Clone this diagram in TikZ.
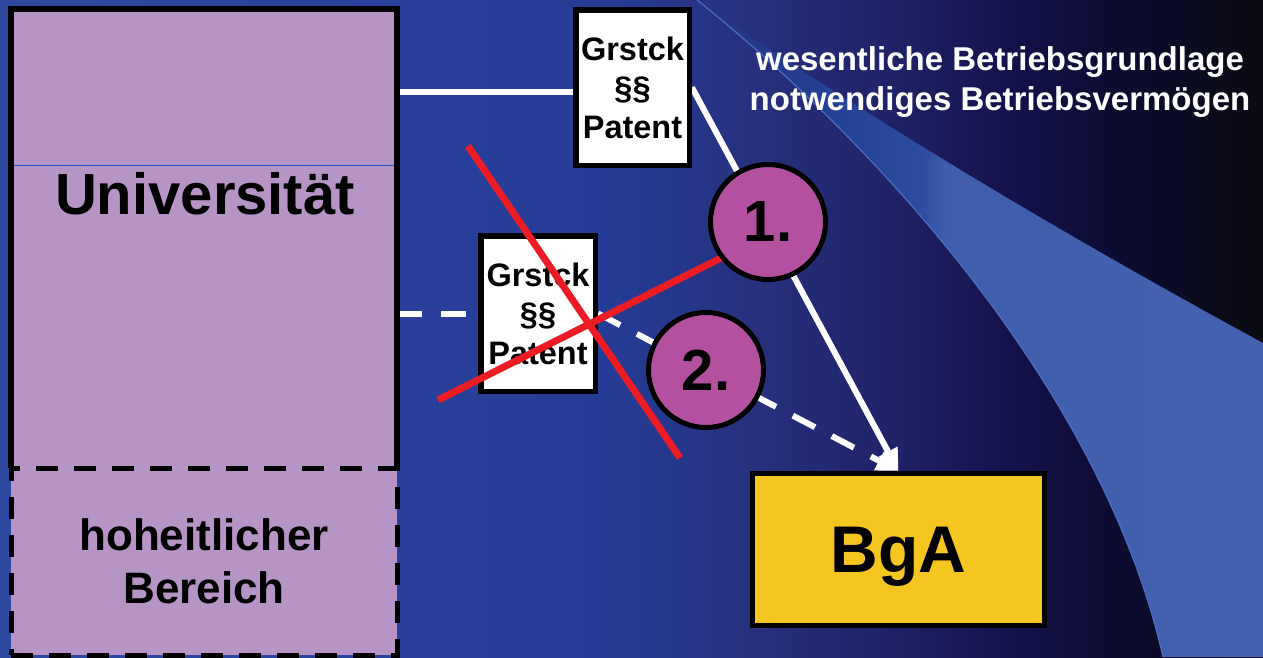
\documentclass[tikz,border=0pt]{standalone}
\usepackage{fontspec}
\setmainfont{Liberation Sans}
\usetikzlibrary{arrows.meta}
\definecolor{c0}{RGB}{46,74,160}
\definecolor{c1}{RGB}{40,64,155}
\definecolor{c2}{RGB}{37,60,150}
\definecolor{c3}{RGB}{38,48,125}
\definecolor{c4}{RGB}{30,32,100}
\definecolor{c5}{RGB}{20,18,75}
\definecolor{c6}{RGB}{12,12,50}
\definecolor{c7}{RGB}{10,10,18}
\definecolor{b0}{RGB}{38,50,128}
\definecolor{b1}{RGB}{36,66,150}
\definecolor{b2}{RGB}{45,78,160}
\definecolor{b3}{RGB}{62,94,172}
\definecolor{b4}{RGB}{66,98,176}
\definecolor{unifill}{RGB}{182,148,198}
\definecolor{circfill}{RGB}{180,80,160}
\definecolor{bgafill}{RGB}{245,198,32}
\definecolor{thinblue}{RGB}{40,80,205}
\definecolor{redcross}{RGB}{237,28,36}
\definecolor{bandline}{RGB}{75,110,195}
\pgfdeclarehorizontalshading{bgshade}{100bp}{color(0bp)=(c0); color(25bp)=(c0); color(41.5bp)=(c1); color(49bp)=(c2); color(55bp)=(c3); color(61bp)=(c4); color(65bp)=(c5); color(69bp)=(c6); color(75bp)=(c7); color(100bp)=(c7)}
\pgfdeclarehorizontalshading{bandshade}{100bp}{color(0bp)=(b0); color(25bp)=(b0); color(37.6bp)=(b1); color(45bp)=(b2); color(47bp)=(b3); color(75bp)=(b4); color(100bp)=(b4)}
\pgfdeclarelayer{bglayer}
\pgfdeclarelayer{connlayer}
\pgfsetlayers{bglayer,connlayer,main}
\begin{document}
\begin{tikzpicture}[x=1pt,y=-1pt,
  box/.style={draw=black, line width=5.5pt, fill=white, inner sep=0pt, align=center, font=\bfseries\fontsize{32.5}{39}\selectfont},
  numcirc/.style={circle, draw=black, line width=5pt, fill=circfill, minimum size=115pt, inner sep=0pt, text depth=0pt, font=\bfseries\fontsize{58}{60}\selectfont},
  wline/.style={draw=white, line width=6pt},
  wdash/.style={wline, dash pattern=on 25pt off 19pt},
  headed/.style={-{Triangle[length=22pt,width=20pt]}},
  redx/.style={draw=redcross, line width=7pt},
  ]
\useasboundingbox (0,0) rectangle (1263,657);
\begin{pgfonlayer}{bglayer}
\shade[shading=bgshade] (0,0) rectangle (1263,657);
\shade[shading=bandshade] (697,0) .. controls (820,85) and (1000,200) .. (1263,343) -- (1263,657) -- (1163,657) .. controls (1100,380) and (860,130) .. (697,0) -- cycle;
\draw[line width=1.2pt, draw=bandline] (697,0) .. controls (860,130) and (1100,380) .. (1163,657);
\end{pgfonlayer}

% Universitaet
\node[fill=unifill, minimum width=386pt, minimum height=459pt, inner sep=0pt] (uni) at (204,238.5) {};
\draw[line width=1.3pt, draw=thinblue] ([yshift=-157pt]uni.north west) -- ([yshift=-157pt]uni.north east);
\node[fill=unifill, draw=black, line width=5pt, dash pattern=on 22pt off 16pt, minimum width=386pt, minimum height=187pt, inner sep=0pt, align=center, font=\bfseries\fontsize{44}{53}\selectfont] (hoh) at (204,561.5) {hoheitlicher\\Bereich};
\draw[line width=6pt, draw=black] (uni.south west) |- (uni.north east) -- (uni.south east);
\node[anchor=base, font=\bfseries\fontsize{58}{60}\selectfont] (unitxt) at (205,214) {Universität};

% boxes
\node[box, minimum width=113.5pt, minimum height=155.5pt] (g1) at (632.5,87.5) {Grstck\\§§\\Patent};
\node[box, minimum width=114.5pt, minimum height=155.5pt] (g2) at (538,313.5) {Grstck\\§§\\Patent};
\node[draw=black, line width=5pt, fill=bgafill, minimum width=292pt, minimum height=152pt, inner sep=0pt, text depth=0pt, font=\bfseries\fontsize{66}{70}\selectfont] (bga) at (898.5,549.5) {BgA};

\node[text=white, align=center, font=\bfseries\fontsize{33}{40}\selectfont] (caption) at (1000,82) {wesentliche Betriebsgrundlage\\notwendiges Betriebsvermögen};

% connectors
\begin{pgfonlayer}{connlayer}
\draw[wline] ([yshift=-4.5pt]g1.west -| uni.east) -- ([yshift=-4.5pt]g1.west);
\draw[wdash] (g2.west -| uni.east) -- (g2.west);
\draw[wline, headed] (g1.east) -- (bga.north);
\draw[wdash, headed] (g2.east) -- (bga.north);
\end{pgfonlayer}

% red cross
\coordinate (rA1) at (468,146);
\coordinate (rA2) at (680,458);
\coordinate (rB1) at (438,400);
\coordinate (rB2) at (735,251);
\draw[redx] (rA1) -- (rA2);
\draw[redx] (rB1) -- (rB2);

% circles
\node[numcirc] (c1) at (768,222) {1.};
\node[numcirc] (c2) at (706,370) {2.};
\end{tikzpicture}
\end{document}
